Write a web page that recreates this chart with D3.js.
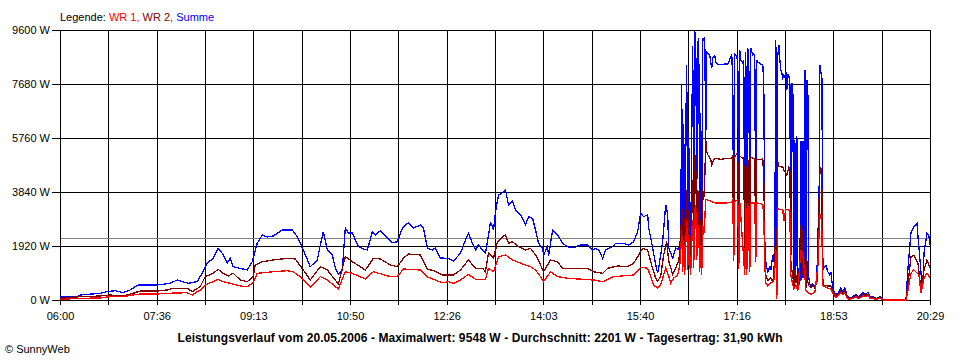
<!DOCTYPE html>
<html>
<head>
<meta charset="utf-8">
<script src="https://cdn.jsdelivr.net/npm/d3@7"></script>
<style>
  body { margin: 0; background: #fff; }
  svg { display: block; font-family: "Liberation Sans", Arial, sans-serif; }
  .tick text { font-size: 11px; fill: #000; }
</style>
</head>
<body>
<div id="chart"></div>
<script>
// Tagesverlauf SunnyWeb, 20.05.2006
// Zeit = Minuten ab 06:00, Wert = Watt
const timeLabels = ["06:00", "07:36", "09:13", "10:50", "12:26", "14:03", "15:40", "17:16", "18:53", "20:29"];
const yTicks = [0, 1920, 3840, 5760, 7680, 9600];
const dayMinutes = 869;
const average = 2201;
const titleText = "Leistungsverlauf vom 20.05.2006 - Maximalwert: 9548 W - Durchschnitt: 2201 W - Tagesertrag: 31,90 kWh";

const summe = [[0,107],[17,117],[20,178],[40,238],[47,295],[55,331],[63,260],[70,356],[78,533],[97,533],[110,594],[117,711],[128,594],[137,651],[142,949],[147,1305],[153,1483],[158,1838],[162,1661],[167,1305],[170,1483],[173,1184],[187,1067],[192,1362],[197,2016],[202,2311],[207,2240],[213,2276],[222,2489],[232,2489],[237,2251],[243,1778],[250,1184],[257,1422],[260,1956],[263,2429],[267,1778],[272,1600],[275,1138],[278,925],[282,1067],[285,2560],[288,2382],[292,2382],[298,1895],[303,1814],[307,1778],[312,2429],[315,2311],[320,2464],[327,2205],[332,2038],[337,2073],[342,2560],[348,2749],[353,2560],[360,2667],[363,2560],[367,1849],[372,1778],[375,1849],[380,1494],[387,1483],[393,1387],[400,1661],[405,2134],[408,2372],[412,2016],[415,1778],[418,1956],[422,1778],[425,1661],[427,2073],[430,2784],[433,2489],[435,3140],[438,3734],[442,3815],[445,3911],[448,3378],[452,3531],[455,3200],[460,3022],[465,2667],[468,2962],[472,2905],[475,2489],[478,2016],[482,1838],[483,1600],[487,1895],[488,1565],[492,2489],[497,2311],[502,2016],[507,1895],[513,1860],[520,1956],[527,1956],[532,1778],[535,1838],[538,1778],[542,1483],[545,1778],[552,1895],[555,2016],[562,2016],[568,1956],[573,2073],[577,2429],[580,3083],[583,2962],[587,3033],[588,2560],[592,1849],[595,1255],[597,960],[598,1138],[602,2087],[605,3389],[607,3033],[608,1849],[612,1494],[615,1849],[618,1789],[620,2205],
  [621,7680],[622,1530],[623,6260],[624,1350],[625,5940],[626,8360],[627,1780],[628,5970],[629,2130],[630,1490],[631,5940],[632,9030],[633,2490],[634,9548],[635,9350],[636,3560],[637,9140],[638,9320],[639,2130],[640,6650],[641,1780],[642,9320],[643,9250],[644,9350],[645,5690],[646,8820],[647,8780],[648,8750],[649,8710],[650,8430],[651,8250],[652,8610],[654,8680],[655,8460],[657,8390],[660,8360],[664,8390],[667,8390],[668,8460],[670,8640],[671,8710],[672,7820],[673,1390],[674,8750],[675,8710],[676,8610],[677,8710],[678,1880],[679,8890],[680,8530],[682,8430],[683,8530],[684,1140],[685,8820],[686,1140],[687,8960],[688,8640],[689,1240],[690,8960],[691,8820],[692,8710],[693,8750],[694,8680],[695,1350],[696,8530],[697,8460],[699,8430],[700,8390],[702,8360],[703,7610],[704,2100],[705,1350],[706,1140],[707,1000],[708,1070],[709,1210],[710,1070],[711,1350],[712,1600],[713,1350],[714,2130],[715,9250],[716,1960],[717,8710],[718,9070],[719,8530],[720,8180],[721,8070],[722,7890],[723,8000],[724,7890],[725,8110],[726,7470],[727,8040],[728,7960],[729,7790],[730,1390],[731,7720],[732,7470],[733,530],[734,5690],[735,1070],[736,5830],[737,890],[738,1140],[739,530],[740,5650],[741,710],[742,5650],[743,890],[744,8180],[745,430],[746,7820],[747,7290],[748,780],[749,570],[750,500],[752,570],[754,500],[756,710],[757,2560],[758,2280],[759,8360],[760,8110],[761,7890],[762,1390],[763,1140],[765,1240],[767,1000],[769,890],[770,1000],[772,360],[775,180],[778,280],[780,430],[782,280],[784,430],[786,180],[788,70],[792,110],[795,210],[797,110],[800,180],[802,250],[805,210],[807,280],[809,140],[812,110],[816,40],[819,140],[821,40],[823,0],[845,0],[847,1140],[850,2380],[853,2610],[856,2730],[857,2250],[859,1420],[861,530],[862,600],[863,1670],[866,2380],[868,2250],[869,1960]];

const wr2 = [[0,60],[20,117],[40,142],[50,178],[63,142],[73,238],[80,320],[97,320],[107,356],[113,416],[127,416],[132,295],[140,473],[145,829],[153,949],[158,1092],[163,949],[168,853],[173,949],[180,711],[187,651],[193,829],[195,1245],[202,1362],[213,1422],[227,1483],[235,1458],[243,1067],[250,711],[260,1184],[267,1067],[278,569],[285,1540],[292,1362],[305,1067],[313,1483],[320,1458],[330,1245],[337,1184],[343,1483],[348,1636],[360,1600],[367,1102],[373,1042],[382,889],[393,889],[400,1067],[408,1422],[415,1127],[422,1127],[425,1006],[428,1661],[433,1483],[437,2073],[442,2251],[445,2311],[448,2016],[452,2073],[458,1895],[465,1778],[470,1838],[475,1600],[480,1245],[483,1006],[490,1422],[497,1362],[502,1127],[527,1127],[533,1006],[542,949],[547,1127],[557,1209],[567,1184],[573,1305],[578,1600],[582,1838],[587,1778],[590,1362],[595,772],[597,660],[600,853],[603,1610],[606,2087],[608,1390],[612,900],[615,1138],[618,1390],[620,1966],
  [621,3560],[622,1390],[623,3200],[624,1250],[625,2840],[626,3910],[627,1490],[628,3200],[629,1780],[630,1250],[631,3560],[632,4270],[633,1600],[634,5160],[635,4980],[636,2130],[637,3910],[638,3560],[639,1420],[640,2840],[641,1250],[642,3910],[643,3560],[644,4270],[645,5690],[646,5290],[647,5170],[650,4990],[651,4810],[653,4990],[655,5030],[660,5000],[665,5030],[670,5030],[672,5120],[673,1390],[674,5100],[677,5230],[678,1250],[679,5120],[682,5030],[683,5060],[684,1140],[685,5030],[686,1000],[687,5100],[689,1140],[690,5060],[694,5030],[695,1390],[696,5000],[700,4990],[702,5030],[703,4270],[704,2100],[705,890],[707,700],[710,800],[712,600],[714,1500],[715,2670],[716,70],[717,4900],[718,4760],[722,4720],[723,4620],[726,4440],[728,4720],[729,4650],[730,1390],[731,1070],[732,890],[733,430],[734,1070],[735,600],[736,890],[737,430],[738,710],[740,2670],[741,890],[742,2490],[743,780],[744,1490],[745,430],[746,1400],[747,640],[748,500],[750,430],[752,530],[754,430],[756,640],[757,1780],[758,3200],[759,4690],[760,4690],[761,3900],[762,710],[763,530],[766,500],[770,500],[772,300],[775,140],[778,210],[780,320],[782,210],[784,320],[786,140],[788,50],[792,80],[795,160],[797,80],[800,140],[802,200],[805,160],[807,210],[809,100],[812,80],[816,30],[819,100],[821,30],[823,0],[845,0],[847,570],[850,1540],[853,1600],[857,1315],[860,356],[863,1067],[866,1422],[869,1138]];

const wr1 = [[0,20],[20,60],[40,71],[50,117],[63,117],[73,178],[80,213],[97,213],[107,238],[127,260],[132,178],[140,356],[145,533],[153,651],[158,736],[163,651],[170,594],[180,498],[187,473],[193,615],[197,949],[203,971],[213,1006],[227,1042],[233,1006],[242,772],[250,452],[260,829],[267,711],[278,391],[285,1006],[292,949],[305,747],[313,1006],[330,829],[337,829],[343,1102],[360,1067],[367,818],[382,615],[388,651],[393,594],[400,711],[408,914],[415,736],[425,736],[428,1127],[433,1006],[438,1540],[445,1600],[452,1422],[465,1245],[470,1184],[475,1067],[480,829],[483,651],[490,1006],[497,829],[507,772],[533,711],[542,651],[553,829],[573,889],[580,1163],[587,1127],[593,533],[597,416],[600,533],[605,1138],[608,853],[610,600],[613,780],[617,900],[619,1210],[620,1700],
  [621,2490],[622,1000],[623,2130],[624,900],[625,1960],[626,2840],[627,1070],[628,2310],[629,1280],[630,890],[631,2490],[632,2840],[633,1140],[634,3200],[635,3380],[636,1420],[637,2670],[638,2490],[639,1000],[640,1960],[641,890],[642,2670],[643,2310],[644,2840],[645,3560],[646,3570],[650,3520],[652,3470],[655,3450],[665,3450],[671,3470],[672,3570],[673,1390],[674,3500],[677,3570],[678,1100],[679,3500],[684,900],[685,3450],[686,900],[687,3450],[689,1000],[690,3450],[694,3450],[695,1390],[696,3450],[702,3400],[703,2900],[704,1200],[705,600],[707,500],[710,600],[713,700],[714,1100],[715,1800],[716,50],[717,3270],[718,3230],[722,3200],[723,2800],[725,3230],[729,3180],[730,900],[731,700],[733,400],[735,530],[737,330],[740,1780],[742,1600],[744,900],[745,330],[748,250],[750,200],[754,270],[757,1200],[758,2200],[759,3020],[760,3020],[761,2500],[762,500],[766,430],[770,400],[772,230],[775,100],[778,180],[780,250],[782,180],[784,250],[786,100],[788,30],[792,50],[795,120],[797,50],[800,100],[802,150],[805,120],[807,160],[809,70],[812,50],[816,20],[819,70],[821,20],[823,0],[845,0],[847,350],[850,960],[853,1070],[858,890],[860,250],[863,780],[866,960],[869,780]];

const series = [
  { name: "Summe", values: summe, color: "#0000ff" },
  { name: "WR 2", values: wr2, color: "#800000" },
  { name: "WR 1", values: wr1, color: "#ff0000" }
];

const width = 960, height = 360;
const margin = { top: 30, right: 30, bottom: 60, left: 60 };
const innerW = width - margin.left - margin.right;
const innerH = height - margin.top - margin.bottom;

const svg = d3.select("#chart").append("svg")
  .attr("width", width)
  .attr("height", height);

const g = svg.append("g").attr("transform", `translate(${margin.left},${margin.top})`);

const x = d3.scaleLinear().domain([0, dayMinutes]).range([0, innerW]);
const y = d3.scaleLinear().domain([0, 9600]).range([innerH, 0]);

// 18 Rasterfelder, jedes zweite beschriftet
const gridMinutes = d3.range(19).map(i => i * dayMinutes / 18);

// vertical grid
g.append("g")
  .attr("class", "grid")
  .attr("transform", `translate(0,${innerH})`)
  .call(d3.axisBottom(x).tickValues(gridMinutes).tickSize(-innerH).tickFormat(""))
  .call(s => s.select(".domain").remove())
  .selectAll("line").attr("stroke", "#000").attr("shape-rendering", "crispEdges");

// horizontal grid
g.append("g")
  .attr("class", "grid")
  .call(d3.axisLeft(y).tickValues(yTicks).tickSize(-innerW).tickFormat(""))
  .call(s => s.select(".domain").remove())
  .selectAll("line").attr("stroke", "#000").attr("shape-rendering", "crispEdges");

// average line
g.append("line")
  .attr("x1", 0).attr("x2", innerW)
  .attr("y1", y(average)).attr("y2", y(average))
  .attr("stroke", "#808080")
  .attr("shape-rendering", "crispEdges");

// x axis
g.append("g")
  .attr("transform", `translate(0,${innerH})`)
  .call(d3.axisBottom(x).tickValues(gridMinutes).tickSize(5).tickPadding(7)
    .tickFormat((d, i) => i % 2 === 0 ? timeLabels[i / 2] : ""))
  .call(s => s.select(".domain").remove())
  .call(s => s.selectAll("line").attr("stroke", "#000").attr("shape-rendering", "crispEdges"));

// y axis
g.append("g")
  .call(d3.axisLeft(y).tickValues(yTicks).tickSize(8).tickPadding(2).tickFormat(d => d + " W"))
  .call(s => s.select(".domain").remove())
  .call(s => s.selectAll("line").attr("stroke", "#000").attr("shape-rendering", "crispEdges"));

// frame
g.append("rect")
  .attr("width", innerW).attr("height", innerH)
  .attr("fill", "none").attr("stroke", "#000")
  .attr("shape-rendering", "crispEdges");

// data lines
const line = d3.line().x(d => x(d[0])).y(d => y(d[1]));
g.selectAll(".series")
  .data(series)
  .enter()
  .append("path")
  .attr("class", "series")
  .attr("d", d => line(d.values))
  .attr("fill", "none")
  .attr("stroke", d => d.color)
  .attr("stroke-width", 1.3)
  .attr("shape-rendering", "crispEdges");

// legend
const legend = svg.append("text")
  .attr("x", 60).attr("y", 21)
  .attr("font-size", 11);
legend.append("tspan").attr("fill", "#000").text("Legende: ");
legend.append("tspan").attr("fill", "#ff0000").text("WR 1, ");
legend.append("tspan").attr("fill", "#800000").text("WR 2, ");
legend.append("tspan").attr("fill", "#0000ff").text("Summe");

// title below chart
svg.append("text")
  .attr("x", 480).attr("y", 342)
  .attr("text-anchor", "middle")
  .attr("font-size", 12)
  .attr("font-weight", "bold")
  .attr("textLength", 605)
  .attr("lengthAdjust", "spacing")
  .text(titleText);

svg.append("text")
  .attr("x", 5).attr("y", 353)
  .attr("font-size", 11)
  .text("\u00a9 SunnyWeb");
</script>
</body>
</html>
